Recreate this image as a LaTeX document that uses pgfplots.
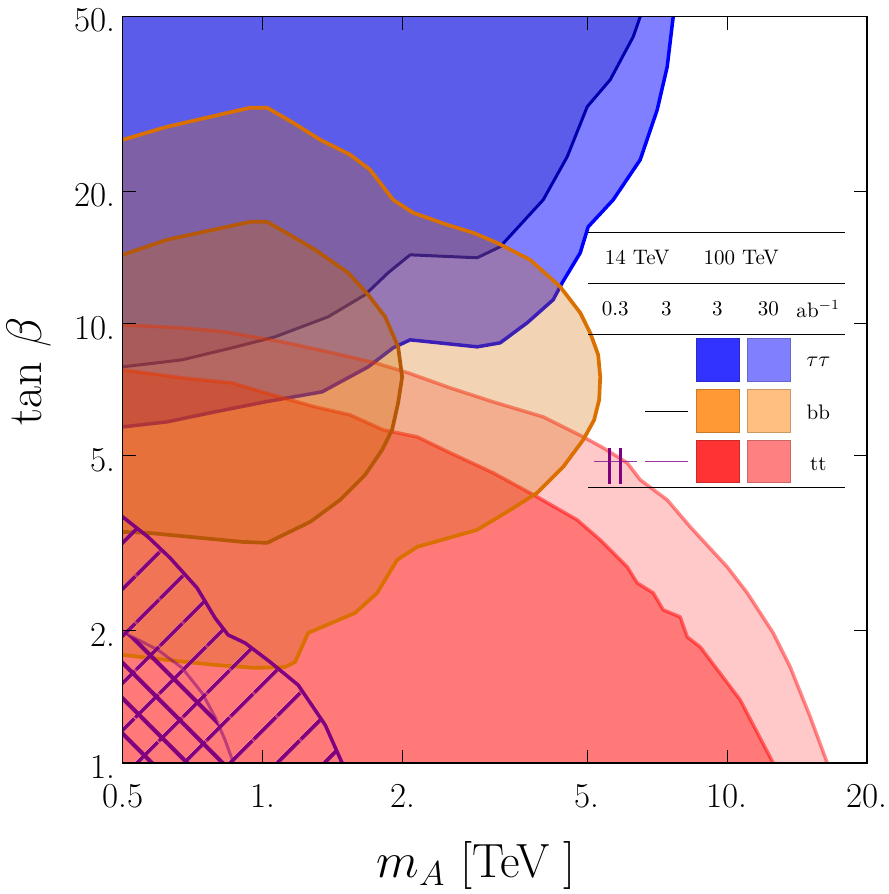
\documentclass[border=0pt]{standalone}
\usepackage{pgfplots}
\pgfplotsset{compat=1.18}
\usetikzlibrary{patterns.meta}

\definecolor{bdark}{RGB}{0,0,184}
\definecolor{bline}{RGB}{0,0,255}
\definecolor{bdline}{RGB}{0,0,175}
\definecolor{ofill}{RGB}{210,107,0}
\definecolor{oline}{RGB}{218,112,0}
\definecolor{odline}{RGB}{182,88,8}
\definecolor{hatch}{RGB}{128,0,128}
% legend swatches
\definecolor{lgbA}{RGB}{51,51,255}
\definecolor{lgbB}{RGB}{128,128,255}
\definecolor{lgoA}{RGB}{255,153,51}
\definecolor{lgoB}{RGB}{255,191,128}
\definecolor{lgrA}{RGB}{255,51,51}
\definecolor{lgrB}{RGB}{255,128,128}

\newcommand{\lgfont}{\fontsize{10.5}{12}\selectfont}

\begin{document}
\begin{tikzpicture}
\begin{axis}[
  width=372pt, height=373pt, scale only axis,
  xmode=log, ymode=log,
  xmin=0.5, xmax=20, ymin=1, ymax=50,
  xtick={0.5,1,2,5,10,20}, xticklabels={0.5,1.,2.,5.,10.,20.},
  ytick={1,2,5,10,20,50}, yticklabels={1.,2.,5.,10.,20.,50.},
  tick align=inside, major tick length=6.5pt,
  tick style={black, line width=0.5pt},
  axis line style={black, line width=0.7pt},
  axis on top,
  tick label style={font=\fontsize{17.5}{20}\selectfont},
  xticklabel style={yshift=-7pt},
  yticklabel style={yshift=-2pt},
  xlabel={$m_A$ [TeV\ ]}, ylabel={tan $\beta$},
  label style={font=\fontsize{24}{28}\selectfont},
  xlabel style={at={([yshift=-51.5pt]rel axis cs:0.475,0)}, anchor=center},
  ylabel style={at={([xshift=-47pt]rel axis cs:0,0.525)}, anchor=center},
  every axis plot/.append style={line join=round},
]

% tau tau, 30 ab^-1
\addplot[fill=bline, fill opacity=0.5, draw=bline, line width=1.75pt] coordinates {
 (7.72,55) (7.654,50) (7.43,38.47) (7.071,30.70) (6.499,23.62) (5.685,19.15)
 (5.022,16.62) (4.827,14.50) (4.415,12.39) (4.222,11.34) (3.712,10.05) (3.247,9.047)
 (2.897,8.859) (2.078,9.190) (1.910,8.813) (1.6875,7.977) (1.343,6.997) (1.0125,6.639)
 (0.790,6.300) (0.6228,5.978) (0.5,5.823) (0.45,5.78) (0.45,55)} -- cycle;
% tau tau, 3 ab^-1
\addplot[fill=bdark, fill opacity=0.28, draw=bdline, line width=1.5pt] coordinates {
 (6.56,55) (6.499,50) (6.278,45.02) (5.601,35.93) (4.997,31.19) (4.526,24.0)
 (4.018,19.15) (3.2465,14.97) (2.8966,14.13) (2.0781,14.35) (1.8633,13.06)
 (1.6625,11.64) (1.3839,10.37) (1.064,9.336) (0.8596,8.813) (0.671,8.275)
 (0.5,7.977) (0.45,7.92) (0.45,55)} -- cycle;

% tt, 30 ab^-1
\addplot[fill=red, fill opacity=0.21, draw=red, draw opacity=0.45, line width=1.75pt] coordinates {
 (0.45,9.96) (0.5,9.942) (0.671,9.787) (0.8304,9.584) (1.1015,9.095) (1.4116,8.585)
 (1.7471,8.146) (2.0576,7.730) (2.5336,7.145) (3.1357,6.639) (4.0179,6.137)
 (4.8992,5.526) (5.4102,5.216) (6.0933,4.822) (6.4993,4.411) (7.4298,3.971)
 (8.3277,3.447) (10.0,2.795) (11.042,2.439) (12.562,1.977) (13.666,1.654)
 (15.093,1.273) (16.421,1.0) (16.7,0.9) (0.45,0.9)} -- cycle;
% tt, 3 ab^-1
\addplot[fill=red, fill opacity=0.4, draw=red, draw opacity=0.5, line width=1.75pt] coordinates {
 (0.45,7.9) (0.5,7.852) (0.671,7.530) (0.8596,7.335) (1.0125,6.960) (1.2974,6.467)
 (1.5433,6.201) (1.8177,5.733) (2.1515,5.526) (2.5336,5.082) (3.1357,4.576)
 (3.900,4.035) (4.7558,3.576) (5.3302,3.220) (6.0933,2.795) (6.4031,2.570)
 (6.9315,2.439) (7.2841,2.231) (7.9247,2.150) (8.2046,1.936) (8.7512,1.837)
 (10.666,1.392) (12.562,1.0) (12.8,0.9) (0.45,0.9)} -- cycle;

% bb, 30 ab^-1
\addplot[fill=ofill, fill opacity=0.29, draw=oline, line width=1.85pt] coordinates {
 (0.45,25.8) (0.5,26.23) (0.6228,28.08) (0.9398,31.03) (1.0226,31.03) (1.1633,28.68)
 (1.33,26.23) (1.5433,24.25) (1.7042,22.41) (1.9101,19.15) (2.1093,17.89)
 (2.4962,16.80) (2.8396,16.11) (3.1985,15.28) (3.767,13.98) (4.3713,12.14)
 (4.8267,10.59) (5.0722,9.534) (5.277,8.495) (5.3302,7.569) (5.303,6.709)
 (5.173,6.041) (4.8992,5.440) (4.4369,4.722) (3.900,4.120) (3.4115,3.768)
 (2.8966,3.394) (2.1515,3.104) (1.9482,2.899) (1.7645,2.439) (1.582,2.196)
 (1.2531,1.977) (1.1749,1.698) (1.1181,1.654) (0.9634,1.646) (0.7902,1.672)
 (0.6228,1.716) (0.5,1.762) (0.45,1.77)} -- cycle;
% bb, 3 ab^-1
\addplot[fill=ofill, fill opacity=0.31, draw=odline, line width=1.85pt] coordinates {
 (0.45,14.2) (0.5,14.35) (0.6228,15.53) (0.9398,17.06) (1.0226,17.06) (1.1633,15.77)
 (1.2974,14.73) (1.5281,13.06) (1.6875,11.64) (1.8358,10.37) (1.9578,8.859)
 (1.9972,7.569) (1.9578,6.605) (1.9006,5.733) (1.8088,5.162) (1.6625,4.528)
 (1.4687,3.971) (1.2656,3.539) (1.0226,3.170) (0.9033,3.187) (0.5668,3.341)
 (0.5,3.358) (0.45,3.36)} -- cycle;

% 14 TeV tt, 0.3 ab^-1 (hatched)
\addplot[pattern={Lines[angle=45,distance=17pt,line width=2pt]}, pattern color=hatch,
  draw=hatch, line width=1.75pt] coordinates {
 (0.45,3.75) (0.5,3.633) (0.5668,3.271) (0.6321,2.930) (0.7227,2.504) (0.7902,2.139)
 (0.843,1.957) (0.9169,1.876) (1.0379,1.698) (1.1925,1.505) (1.3634,1.221)
 (1.4833,1.0) (1.50,0.9) (0.45,0.9)} -- cycle;
\addplot[pattern={Lines[angle=-45,distance=12.5pt,line width=2pt]}, pattern color=hatch,
  draw=none] coordinates {
 (0.45,2.05) (0.5,1.987) (0.5956,1.809) (0.671,1.646) (0.7409,1.4436) (0.7902,1.273)
 (0.8304,1.128) (0.8636,1.005) (0.87,0.9) (0.45,0.9)} -- cycle;
% 14 TeV tt, 3 ab^-1
\addplot[draw=hatch, draw opacity=0.5, line width=1.5pt] coordinates {
 (0.45,2.05) (0.5,1.987) (0.5956,1.809) (0.671,1.646) (0.7409,1.4436) (0.7902,1.273)
 (0.8304,1.128) (0.8636,1.005) (0.87,0.9)};

% legend table
\draw[line width=0.5pt] (rel axis cs:0.6255,0.7105) -- (rel axis cs:0.9709,0.7105);
\draw[line width=0.5pt] (rel axis cs:0.6255,0.6421) -- (rel axis cs:0.9709,0.6421);
\draw[line width=0.5pt] (rel axis cs:0.6255,0.5737) -- (rel axis cs:0.9709,0.5737);
\draw[line width=0.5pt] (rel axis cs:0.6255,0.3693) -- (rel axis cs:0.9709,0.3693);
\node[font=\lgfont] at (rel axis cs:0.6913,0.6769) {14 TeV};
\node[font=\lgfont] at (rel axis cs:0.8311,0.6769) {100 TeV};
\node[font=\lgfont] at (rel axis cs:0.6617,0.6086) {0.3};
\node[font=\lgfont] at (rel axis cs:0.7303,0.6086) {3};
\node[font=\lgfont] at (rel axis cs:0.7989,0.6086) {3};
\node[font=\lgfont] at (rel axis cs:0.8674,0.6086) {30};
\node[font=\lgfont] at (rel axis cs:0.9346,0.6086) {ab$^{-1}$};
\node[font=\lgfont] at (rel axis cs:0.9346,0.5375) {$\tau\tau$};
\node[font=\lgfont] at (rel axis cs:0.9346,0.4692) {bb};
\node[font=\lgfont] at (rel axis cs:0.9346,0.4008) {tt};
\filldraw[fill=lgbA, draw=lgbA!80!black, line width=0.4pt] (rel axis cs:0.7706,0.5107) rectangle (rel axis cs:0.8284,0.5684);
\filldraw[fill=lgbB, draw=lgbB!80!black, line width=0.4pt] (rel axis cs:0.8391,0.5107) rectangle (rel axis cs:0.8969,0.5684);
\filldraw[fill=lgoA, draw=lgoA!80!black, line width=0.4pt] (rel axis cs:0.7706,0.4424) rectangle (rel axis cs:0.8284,0.5);
\filldraw[fill=lgoB, draw=lgoB!80!black, line width=0.4pt] (rel axis cs:0.8391,0.4424) rectangle (rel axis cs:0.8969,0.5);
\filldraw[fill=lgrA, draw=lgrA!80!black, line width=0.4pt] (rel axis cs:0.7706,0.3753) rectangle (rel axis cs:0.8284,0.4316);
\filldraw[fill=lgrB, draw=lgrB!80!black, line width=0.4pt] (rel axis cs:0.8391,0.3753) rectangle (rel axis cs:0.8969,0.4316);
\draw[black, line width=0.6pt] (rel axis cs:0.7020,0.4705) -- (rel axis cs:0.7598,0.4705);
\draw[hatch!80, line width=0.6pt] (rel axis cs:0.7020,0.4035) -- (rel axis cs:0.7598,0.4035);
\draw[hatch!80, line width=0.6pt] (rel axis cs:0.6335,0.4035) -- (rel axis cs:0.6913,0.4035);
\draw[hatch, line width=1.5pt] (rel axis cs:0.6536,0.374) -- (rel axis cs:0.6536,0.4223);
\draw[hatch, line width=1.5pt] (rel axis cs:0.6684,0.374) -- (rel axis cs:0.6684,0.4223);
\end{axis}
\pgfresetboundingbox
\path (-61.35pt,-65.5pt) rectangle (382.65pt,381.35pt);
\end{tikzpicture}
\end{document}
